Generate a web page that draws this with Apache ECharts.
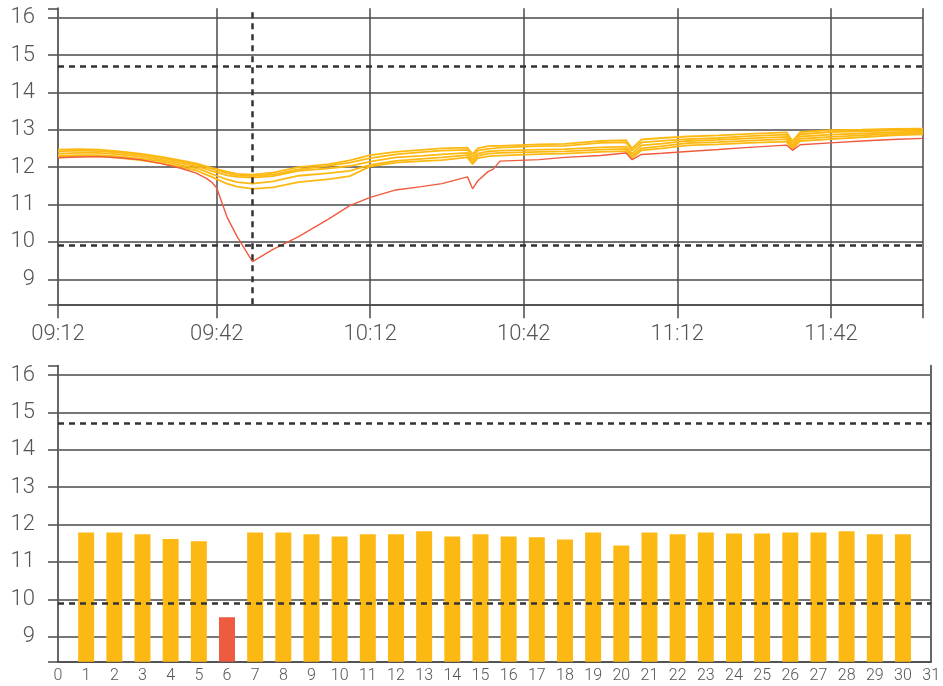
<!DOCTYPE html>
<html>
<head>
<meta charset="utf-8">
<script src="https://cdn.jsdelivr.net/npm/echarts@6/dist/echarts.min.js"></script>
<style>html,body{margin:0;padding:0;background:#fff}#c{width:943px;height:686px}</style>
</head>
<body>
<div id="c"></div>
<script>
// ---------- data ----------
const times = ['09:11','09:15','09:19','09:23','09:27','09:31','09:35','09:38','09:40','09:41',
  '09:42','09:44','09:46','09:49','09:53','09:58','10:04','10:08','10:12','10:17',
  '10:22','10:26','10:31','10:32','10:33','10:35','10:36','10:37:20','10:45','10:50',
  '10:57','11:02','11:03:10','11:05','11:09','11:14','11:20','11:26','11:33:20','11:34:30',
  '11:36','11:42','11:48','11:54','12:00'];
const sensor1 = [12.47,12.48,12.47,12.42,12.36,12.28,12.18,12.10,12.02,11.98,
  11.95,11.88,11.82,11.80,11.85,12.00,12.08,12.18,12.32,12.41,
  12.46,12.50,12.52,12.35,12.50,12.56,12.57,12.57,12.61,12.62,
  12.70,12.72,12.50,12.74,12.78,12.82,12.85,12.89,12.93,12.70,
  12.94,12.99,13.00,13.02,13.03];
const sensor2 = [12.42,12.44,12.43,12.39,12.33,12.25,12.15,12.07,12.00,11.96,
  11.92,11.84,11.78,11.76,11.80,11.94,12.04,12.12,12.24,12.34,
  12.40,12.44,12.46,12.28,12.44,12.49,12.50,12.52,12.56,12.57,
  12.65,12.66,12.44,12.66,12.70,12.75,12.78,12.83,12.87,12.64,
  12.88,12.94,12.96,12.98,13.00];
const sensor3 = [12.36,12.38,12.38,12.34,12.28,12.20,12.10,12.02,11.95,11.90,
  11.86,11.78,11.74,11.72,11.76,11.90,11.97,12.03,12.15,12.26,
  12.30,12.34,12.38,12.20,12.36,12.42,12.43,12.44,12.47,12.48,
  12.53,12.55,12.36,12.58,12.63,12.70,12.73,12.77,12.81,12.58,
  12.82,12.87,12.90,12.93,12.96];
const sensor4 = [12.31,12.32,12.32,12.29,12.23,12.16,12.05,11.97,11.88,11.82,
  11.77,11.67,11.60,11.56,11.62,11.77,11.84,11.90,12.06,12.17,
  12.22,12.26,12.32,12.13,12.30,12.36,12.37,12.38,12.41,12.42,
  12.47,12.49,12.30,12.50,12.56,12.64,12.67,12.71,12.75,12.52,
  12.76,12.81,12.85,12.89,12.92];
const sensor5 = [12.28,12.29,12.29,12.25,12.19,12.11,12.00,11.91,11.80,11.74,
  11.68,11.56,11.48,11.42,11.46,11.60,11.68,11.76,12.02,12.12,
  12.16,12.19,12.26,12.08,12.24,12.29,12.30,12.31,12.35,12.36,
  12.41,12.43,12.24,12.45,12.50,12.58,12.61,12.65,12.68,12.48,
  12.70,12.75,12.80,12.85,12.88];
const sensor6 = [12.25,12.27,12.28,12.25,12.20,12.10,11.97,11.84,11.70,11.60,
  11.45,10.67,10.14,9.47,9.80,10.14,10.62,10.97,11.19,11.39,
  11.48,11.56,11.74,11.42,11.63,11.88,11.94,12.16,12.20,12.26,
  12.31,12.38,12.20,12.34,12.37,12.42,12.47,12.53,12.59,12.45,
  12.60,12.65,12.70,12.74,12.77];
const yellowSeries = [sensor1, sensor2, sensor3, sensor4, sensor5];
const redSeries = sensor6;

const markerTime = '09:49';
const upperLimit = 14.7;
const lowerLimit = 9.9;

const xTickTimes = ['09:11','09:42','10:12','10:42','11:12','11:42'];
const xTickLabels = ['09:12','09:42','10:12','10:42','11:12','11:42'];
const xStart = '09:11';
const xEnd = '12:00';

const yTicks = [9,10,11,12,13,14,15,16];
const yMin = 8.33, yMax = 16.25;

const barDays = [1,2,3,4,5,6,7,8,9,10,11,12,13,14,15,16,17,18,19,20,21,22,23,24,25,26,27,28,29,30];
const barValues = [11.79,11.79,11.74,11.61,11.55,9.52,11.79,11.79,11.74,11.68,
  11.74,11.74,11.82,11.68,11.74,11.68,11.66,11.60,11.79,11.44,
  11.79,11.74,11.79,11.76,11.76,11.79,11.79,11.82,11.74,11.74];
const dayMin = 0, dayMax = 31;

// ---------- helpers ----------
function toMin(s) {
  const p = s.split(':').map(Number);
  return p[0] * 60 + p[1] + (p[2] || 0) / 60;
}
const YEL = '#FDB913', RED = '#EF5B3F';
const GRID = '#4a4a4a', AXIS = '#666', TXT = '#555';
const FONT = 'Roboto';
const FW = 300;

const xs = times.map(toMin);
const tickVals = xTickTimes.map(toMin);
const xMinV = toMin(xStart), xMaxV = toMin(xEnd);

function limitLines(extra) {
  const d = [{ yAxis: upperLimit }, { yAxis: lowerLimit }];
  if (extra) d.push(extra);
  return {
    silent: true, symbol: 'none', animation: false,
    label: { show: false },
    lineStyle: { color: '#333', width: 2.5, type: [6, 5] },
    data: d
  };
}

const yAxisCommon = (gi) => ({
  type: 'value', gridIndex: gi, min: yMin, max: yMax,
  axisLine: { show: true, lineStyle: { color: AXIS, width: 2 } },
  axisTick: { show: true, length: 10, lineStyle: { color: GRID, width: 1.5 }, customValues: [yMin].concat(yTicks, [yMax]) },
  axisLabel: { show: true, customValues: yTicks, color: TXT, fontSize: 22, fontFamily: FONT, fontWeight: FW, margin: 23 },
  splitLine: { show: true, showMaxLine: false, lineStyle: { color: GRID, width: 1.5 } }
});

const series = [];
yellowSeries.forEach((arr, i) => {
  series.push({
    type: 'line', xAxisIndex: 0, yAxisIndex: 0, showSymbol: false, symbol: 'none',
    lineStyle: { color: YEL, width: 1.8 }, z: 3,
    data: arr.map((v, j) => [xs[j], v]),
    markLine: i === 0 ? limitLines({ xAxis: toMin(markerTime) }) : undefined
  });
});
series.push({
  type: 'line', xAxisIndex: 0, yAxisIndex: 0, showSymbol: false, symbol: 'none',
  lineStyle: { color: RED, width: 1.4 }, z: 4,
  data: redSeries.map((v, j) => [xs[j], v])
});
series.push({
  type: 'bar', xAxisIndex: 1, yAxisIndex: 1, barWidth: 16,
  data: barDays.map((d, i) => ({
    value: [d, barValues[i]],
    itemStyle: { color: barValues[i] < lowerLimit ? RED : YEL }
  })),
  markLine: limitLines()
});

const option = {
  animation: false,
  backgroundColor: '#fff',
  grid: [
    { left: 58, right: 20, top: 8.3, height: 296 },
    { left: 58, right: 11, top: 365.7, height: 296 }
  ],
  xAxis: [
    {
      type: 'value', gridIndex: 0, min: xMinV, max: xMaxV,
      axisLine: { show: true, lineStyle: { color: GRID, width: 1.5 } },
      axisTick: { show: true, length: 14, lineStyle: { color: GRID, width: 1.5 }, customValues: tickVals.concat([xMaxV]) },
      axisLabel: {
        show: true, customValues: tickVals, color: TXT, fontSize: 22, fontFamily: FONT, fontWeight: FW, margin: 19,
        formatter: (v) => { const k = tickVals.findIndex(t => Math.abs(t - v) < 1e-6); return k >= 0 ? xTickLabels[k] : ''; }
      },
      splitLine: { show: true, lineStyle: { color: GRID, width: 1.5 } }
    },
    {
      type: 'value', gridIndex: 1, min: dayMin, max: dayMax, interval: 1,
      axisLine: { show: true, lineStyle: { color: GRID, width: 1.5 } },
      axisTick: { show: false },
      axisLabel: { show: true, color: TXT, fontSize: 16, fontFamily: FONT, fontWeight: FW, margin: 6 },
      splitLine: { show: false }
    }
  ],
  yAxis: [
    yAxisCommon(0),
    yAxisCommon(1),
    {
      type: 'value', gridIndex: 1, min: yMin, max: yMax, position: 'right',
      axisLine: { show: true, lineStyle: { color: AXIS, width: 2 } },
      axisTick: { show: false }, axisLabel: { show: false }, splitLine: { show: false }
    }
  ],
  series: series
};

const chart = echarts.init(document.getElementById('c'), null, { renderer: 'canvas' });
chart.setOption(option);
</script>
</body>
</html>
